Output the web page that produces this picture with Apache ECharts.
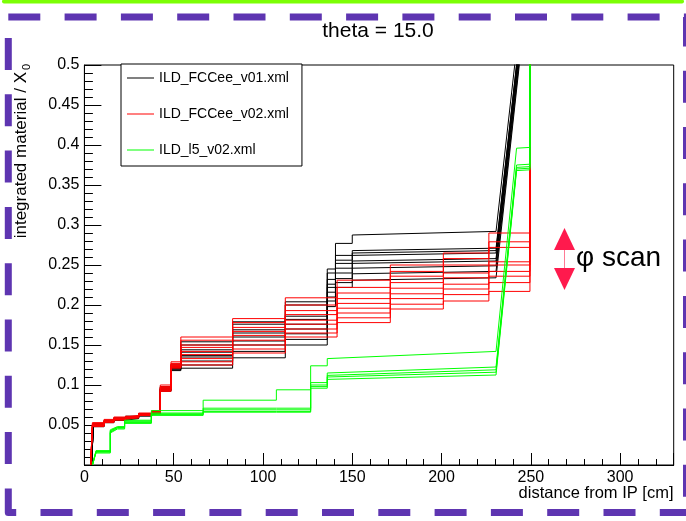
<!DOCTYPE html>
<html><head><meta charset="utf-8">
<script src="https://cdn.jsdelivr.net/npm/echarts/dist/echarts.min.js"></script>
<style>html,body{margin:0;padding:0;background:#fff}#c{width:686px;height:521px}</style>
</head><body><div id="c"></div>
<script>
const FONT = '"Liberation Sans", Arial, Helvetica, sans-serif';

// ---- legend names ----
const seriesNames = ['ILD_FCCee_v01.xml', 'ILD_FCCee_v02.xml', 'ILD_l5_v02.xml'];
const seriesColors = ['#000000', '#ff0000', '#00ff00'];

// ---- axis ticks ----
const xTickValues = [0, 50, 100, 150, 200, 250, 300];
const yTickValues = [0.05, 0.1, 0.15, 0.2, 0.25, 0.3, 0.35, 0.4, 0.45, 0.5];

// ---- ILD_FCCee_v01 (black): distances where material changes, 'S' = step, 'R' = ramp ----
const blackX     = [4, 5, 11, 16.5, 23, 30.4, 37.7, 42.5, 48.5, 54, 83, 112.5, 136, 140.6, 150, 230.5, 245];
const blackKinds = ['-', 'R', 'S', 'S', 'S', 'S', 'S', 'S', 'S', 'S', 'S', 'S', 'S', 'S', 'S', 'R', 'R'];
const black1 = [0, 0.052, 0.056, 0.059, 0.061, 0.064, 0.067, 0.098, 0.126, 0.154, 0.179, 0.204, 0.245, 0.277, 0.2875, 0.292, 0.58];
const black2 = [0, 0.050, 0.055, 0.058, 0.060, 0.063, 0.066, 0.096, 0.124, 0.150, 0.176, 0.200, 0.240, 0.262, 0.268, 0.271, 0.56];
const black3 = [0, 0.051, 0.055, 0.058, 0.061, 0.064, 0.066, 0.097, 0.123, 0.144, 0.169, 0.186, 0.232, 0.256, 0.265, 0.268, 0.56];
const black4 = [0, 0.049, 0.054, 0.057, 0.060, 0.063, 0.065, 0.094, 0.121, 0.141, 0.165, 0.182, 0.226, 0.252, 0.262, 0.265, 0.555];
const black5 = [0, 0.050, 0.055, 0.058, 0.060, 0.063, 0.066, 0.095, 0.122, 0.137, 0.160, 0.176, 0.222, 0.246, 0.255, 0.258, 0.55];
const black6 = [0, 0.048, 0.053, 0.056, 0.059, 0.062, 0.065, 0.093, 0.120, 0.135, 0.155, 0.170, 0.216, 0.240, 0.252, 0.255, 0.545];
const black7 = [0, 0.050, 0.054, 0.057, 0.060, 0.063, 0.066, 0.095, 0.121, 0.130, 0.150, 0.164, 0.210, 0.233, 0.246, 0.249, 0.54];
const black8 = [0, 0.049, 0.054, 0.057, 0.059, 0.062, 0.065, 0.094, 0.119, 0.125, 0.142, 0.157, 0.205, 0.228, 0.239, 0.242, 0.535];
const black9 = [0, 0.048, 0.053, 0.056, 0.058, 0.061, 0.064, 0.092, 0.118, 0.121, 0.134, 0.150, 0.198, 0.222, 0.231, 0.234, 0.53];

// ---- ILD_FCCee_v02 (red) ----
const redX     = [3.5, 4.5, 11, 16.5, 23, 30.4, 37.7, 42.5, 48.5, 54, 83, 112.5, 141.5, 171.3, 201, 226.5, 249.5];
const redKinds = ['-', 'R', 'S', 'S', 'S', 'S', 'S', 'S', 'S', 'S', 'S', 'S', 'S', 'S', 'S', 'S', 'S'];
const red1 = [0, 0.053, 0.057, 0.060, 0.062, 0.065, 0.068, 0.100, 0.129, 0.160, 0.183, 0.209, 0.231, 0.250, 0.265, 0.290, 0.55];
const red2 = [0, 0.052, 0.056, 0.059, 0.061, 0.064, 0.067, 0.098, 0.127, 0.156, 0.178, 0.200, 0.222, 0.242, 0.258, 0.279, 0.55];
const red3 = [0, 0.050, 0.055, 0.058, 0.060, 0.063, 0.066, 0.096, 0.125, 0.150, 0.172, 0.193, 0.215, 0.236, 0.250, 0.272, 0.55];
const red4 = [0, 0.049, 0.054, 0.057, 0.060, 0.063, 0.066, 0.095, 0.124, 0.147, 0.167, 0.188, 0.208, 0.228, 0.240, 0.254, 0.55];
const red5 = [0, 0.051, 0.055, 0.058, 0.061, 0.064, 0.067, 0.097, 0.126, 0.142, 0.162, 0.181, 0.202, 0.221, 0.234, 0.250, 0.55];
const red6 = [0, 0.050, 0.054, 0.057, 0.060, 0.063, 0.066, 0.094, 0.123, 0.138, 0.156, 0.176, 0.196, 0.214, 0.226, 0.242, 0.55];
const red7 = [0, 0.049, 0.054, 0.057, 0.059, 0.062, 0.065, 0.095, 0.124, 0.133, 0.150, 0.170, 0.190, 0.208, 0.220, 0.236, 0.55];
const red8 = [0, 0.050, 0.055, 0.058, 0.060, 0.063, 0.066, 0.093, 0.122, 0.129, 0.145, 0.165, 0.184, 0.201, 0.213, 0.228, 0.55];
const red9 = [0, 0.048, 0.053, 0.056, 0.059, 0.062, 0.065, 0.092, 0.121, 0.125, 0.140, 0.160, 0.178, 0.195, 0.205, 0.217, 0.55];

// ---- ILD_l5_v02 (green) ----
const greenX     = [4.5, 6.5, 14.5, 18.5, 22.5, 37.5, 66.5, 107.5, 126.7, 136, 230.5, 242, 249.5, 249.5];
const greenKinds = ['-', 'R', 'S', 'R', 'S', 'S', 'S', 'S', 'S', 'S', 'R', 'R', 'R', 'S'];
const green1 = [0, 0.017, 0.044, 0.048, 0.056, 0.068, 0.081, 0.094, 0.124, 0.133, 0.142, 0.396, 0.397, 0.6];
const green2 = [0, 0.018, 0.043, 0.047, 0.055, 0.065, 0.071, 0.071, 0.103, 0.115, 0.1225, 0.375, 0.376, 0.6];
const green3 = [0, 0.016, 0.041, 0.046, 0.053, 0.064, 0.069, 0.069, 0.100, 0.112, 0.119, 0.372, 0.373, 0.6];
const green4 = [0, 0.015, 0.040, 0.045, 0.052, 0.063, 0.067, 0.067, 0.098, 0.110, 0.116, 0.370, 0.371, 0.6];
const green5 = [0, 0.017, 0.042, 0.047, 0.054, 0.062, 0.066, 0.066, 0.096, 0.107, 0.1125, 0.368, 0.369, 0.6];

const groups = [
  {name: seriesNames[0], color: seriesColors[0], xs: blackX, kinds: blackKinds,
   lines: [black1, black2, black3, black4, black5, black6, black7, black8, black9]},
  {name: seriesNames[1], color: seriesColors[1], xs: redX, kinds: redKinds,
   lines: [red1, red2, red3, red4, red5, red6, red7, red8, red9]},
  {name: seriesNames[2], color: seriesColors[2], xs: greenX, kinds: greenKinds,
   lines: [green1, green2, green3, green4, green5]}
];

function buildLine(xs, kinds, vals) {
  const pts = [[xs[0], vals[0]]];
  for (let i = 1; i < xs.length; i++) {
    if (kinds[i] === 'S') pts.push([xs[i], vals[i - 1]]);
    pts.push([xs[i], vals[i]]);
  }
  return pts;
}

const series = [];
groups.forEach(g => {
  g.lines.forEach(v => {
    series.push({
      type: 'line', name: g.name, data: buildLine(g.xs, g.kinds, v),
      symbol: 'none', showSymbol: false, clip: true, animation: false,
      lineStyle: {color: g.color, width: 1}, itemStyle: {color: g.color},
      emphasis: {disabled: true}, silent: true
    });
  });
});

const chart = echarts.init(document.getElementById('c'), null, {renderer: 'canvas'});
const PURPLE = '#5e35b1';
const ARROW = '#ff1a4d';

chart.setOption({
  animation: false,
  backgroundColor: '#ffffff',
  grid: {left: 84.4, top: 65, right: 12.3, bottom: 56, show: true, borderColor: '#000', borderWidth: 1,
         backgroundColor: 'transparent', containLabel: false, outerBoundsMode: 'none'},
  xAxis: {
    type: 'value', min: 0, max: 330, interval: 50,
    axisLine: {show: true, onZero: false, lineStyle: {color: '#000', width: 1}},
    axisTick: {show: true, inside: true, length: 12, lineStyle: {color: '#000'}},
    minorTick: {show: true, splitNumber: 5, length: 6, lineStyle: {color: '#000'}},
    splitLine: {show: false}, minorSplitLine: {show: false},
    axisLabel: {show: true, color: '#000', fontSize: 16, fontFamily: FONT, margin: 5,
      showMaxLabel: false,
      formatter: v => (xTickValues.indexOf(v) >= 0 ? String(v) : '')}
  },
  yAxis: {
    type: 'value', min: 0, max: 0.5, interval: 0.05,
    axisLine: {show: true, onZero: false, lineStyle: {color: '#000', width: 1}},
    axisTick: {show: true, inside: true, length: 17, lineStyle: {color: '#000'}},
    minorTick: {show: true, splitNumber: 5, length: 8.5, lineStyle: {color: '#000'}},
    splitLine: {show: false}, minorSplitLine: {show: false},
    axisLabel: {show: true, color: '#000', fontSize: 16, fontFamily: FONT, margin: 5,
      showMinLabel: false,
      formatter: v => {
        const r = Math.round(v * 100) / 100;
        return yTickValues.some(t => Math.abs(t - r) < 1e-9) ? String(r) : '';
      }}
  },
  legend: {
    show: true, data: seriesNames, orient: 'vertical', left: 121, top: 64,
    icon: 'rect', padding: [7, 13, 9, 6], itemGap: 22, itemWidth: 27, itemHeight: 1,
    borderColor: '#000', borderWidth: 1, borderRadius: 0, backgroundColor: '#fff',
    selectedMode: false,
    textStyle: {fontSize: 14, lineHeight: 14, fontFamily: FONT, color: '#000'}
  },
  series: series,
  graphic: [
    {type: 'polyline', silent: true, z: 50,
     shape: {points: [[4, 1.5], [682, 1.5]]},
     style: {stroke: '#7cff05', lineWidth: 4, lineCap: 'round', fill: null}},
    {type: 'polyline', silent: true, z: 50,
     shape: {points: [[8.3, 17], [686.5, 17], [686.5, 512.5]]},
     style: {stroke: PURPLE, lineWidth: 7, lineDash: [32, 24.3], fill: null}},
    {type: 'polyline', silent: true, z: 50,
     shape: {points: [[8.3, 38], [8.3, 512.5], [686, 512.5]]},
     style: {stroke: PURPLE, lineWidth: 7, lineDash: [32, 24.3], lineJoin: 'round', fill: null}},
    {type: 'text', silent: true, z: 60, x: 378, y: 31,
     style: {text: 'theta = 15.0', font: '21px ' + FONT, fill: '#000',
             align: 'center', verticalAlign: 'middle', textAlign: 'center', textVerticalAlign: 'middle'}},
    {type: 'text', silent: true, z: 60, x: 673.5, y: 493,
     style: {text: 'distance from IP [cm]', font: '16.5px ' + FONT, fill: '#000',
             align: 'right', verticalAlign: 'middle', textAlign: 'right', textVerticalAlign: 'middle'}},
    {type: 'text', silent: true, z: 60, x: 21, y: 72, rotation: Math.PI / 2,
     style: {text: 'integrated material / X', font: '17px ' + FONT, fill: '#000',
             align: 'right', verticalAlign: 'middle', textAlign: 'right', textVerticalAlign: 'middle'}},
    {type: 'text', silent: true, z: 60, x: 27, y: 64, rotation: Math.PI / 2,
     style: {text: '0', font: '11px ' + FONT, fill: '#000',
             align: 'right', verticalAlign: 'middle', textAlign: 'right', textVerticalAlign: 'middle'}},
    {type: 'polygon', silent: true, z: 60,
     shape: {points: [[554, 250], [575, 250], [564.5, 228]]}, style: {fill: ARROW}},
    {type: 'polygon', silent: true, z: 60,
     shape: {points: [[554, 268], [575, 268], [564.5, 290]]}, style: {fill: ARROW}},
    {type: 'polyline', silent: true, z: 60,
     shape: {points: [[564.5, 250], [564.5, 268]]}, style: {stroke: '#ff7a95', lineWidth: 1, fill: null}},
    {type: 'text', silent: true, z: 60, x: 576, y: 258,
     style: {text: 'φ scan', font: '28px ' + FONT, fill: '#000',
             align: 'left', verticalAlign: 'middle', textAlign: 'left', textVerticalAlign: 'middle'}}
  ]
});
</script></body></html>
